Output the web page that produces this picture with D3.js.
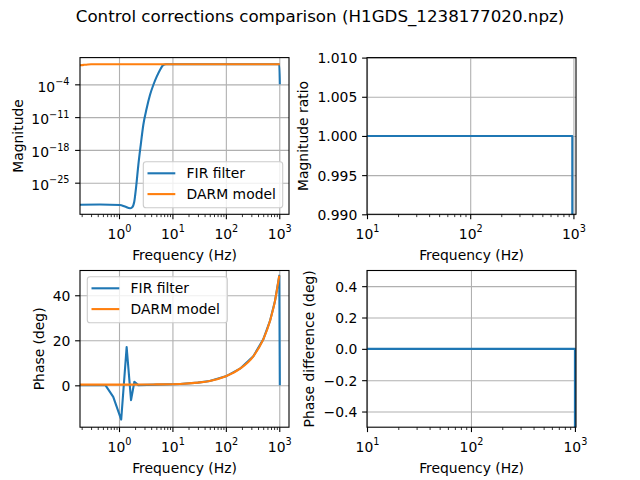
<!DOCTYPE html>
<html lang="en">
<head>
<meta charset="UTF-8">
<title>Control corrections comparison</title>
<script src="https://cdn.jsdelivr.net/npm/d3@7"></script>
<style>
  body { margin: 0; background: #fff; }
  svg { display: block; font-family: 'DejaVu Sans', sans-serif; }
  .grid line { stroke: #b0b0b0; stroke-width: 1.1px; }
  .ticks line { stroke: #000; stroke-width: 1.1px; }
  .minor line { stroke: #000; stroke-width: 0.8px; }
</style>
</head>
<body>
<script>
// values
const titleText = "Control corrections comparison (H1GDS_1238177020.npz)";
const seriesNames = ["FIR filter", "DARM model"];

// top left: magnitude
const firMagFreq = [0.186, 0.44, 1.04, 1.29, 1.61, 1.75, 1.93, 2.08, 2.30, 2.55, 2.85, 3.30, 3.80, 4.39, 5.08, 5.85, 6.75, 7.58, 10, 100, 1000, 1024];
const firMag = [2.0e-30, 2.2e-30, 1.7e-30, 7.9e-31, 3.4e-31, 5.0e-31, 8.7e-30, 7.2e-27, 5.9e-22, 1.1e-17, 2.1e-13, 7.6e-10, 5.2e-7, 7.2e-5, 4.3e-3, 0.115, 1.35, 1.9, 1.9, 1.9, 1.9, 1e-4];
const darmMagFreq = [0.186, 0.22, 0.26, 0.30, 1, 10, 100, 1000, 1024];
const darmMag = [1.15, 1.45, 1.75, 1.9, 1.9, 1.9, 1.9, 1.9, 1.9];

// bottom left: phase (deg)
const firPhaseFreq = [0.186, 0.56, 0.78, 1.10, 1.39, 1.68, 1.94, 2.30, 5, 13.9, 30, 50, 100, 184, 327, 502, 670, 832, 1000, 1024];
const firPhase = [0, 0, -5.1, -15.2, 17.0, -6.6, 1.6, 0.1, 0.3, 0.6, 1.2, 1.9, 4.0, 7.4, 12.9, 20.4, 28.6, 37.5, 48.7, 0];
const darmPhaseFreq = [0.186, 1, 5, 13.9, 30, 50, 100, 184, 327, 502, 670, 832, 1000];
const darmPhase = [0.3, 0.3, 0.4, 0.6, 1.2, 1.9, 4.0, 7.4, 12.9, 20.4, 28.6, 37.5, 48.7];

// right column
const ratioFreq = [10, 100, 975, 1000];
const ratio = [1, 1, 1, 5e-5];
const diffFreq = [10, 100, 1000, 1024];
const diff = [0, 0, 0, -48.7];

const magTicks = [1e-25, 1e-18, 1e-11, 1e-4];
const ratioTicks = [0.99, 0.995, 1.0, 1.005, 1.01];
const phaseTicks = [0, 20, 40];
const diffTicks = [-0.4, -0.2, 0, 0.2, 0.4];

const blue = "#1f77b4", orange = "#ff7f0e";
const FS = 13.9;

const svg = d3.select("body").append("svg")
    .attr("width", 640).attr("height", 480);

svg.append("text")
    .attr("x", 320).attr("y", 22.3)
    .attr("text-anchor", "middle")
    .attr("font-size", 16.7)
    .text(titleText);

const colL = [80, 289], colR = [367, 576];
const rowT = [57.6, 214.3], rowB = [270.5, 427.2];

function logTicks(scale) {
    const [a, b] = scale.domain();
    const major = [], minor = [];
    for (let e = Math.floor(Math.log10(a)); e <= Math.ceil(Math.log10(b)); e++) {
        const p = Math.pow(10, e);
        if (p >= a * 0.999 && p <= b * 1.001) major.push(p);
        for (let k = 2; k < 10; k++) {
            const v = k * p;
            if (v >= a && v <= b) minor.push(v);
        }
    }
    return { major, minor };
}

function sup(sel, d) {
    const e = Math.round(Math.log10(d));
    sel.text("10");
    sel.append("tspan").attr("dy", -6.5).attr("font-size", 9.7)
        .text(String(e).replace("-", "\u2212"));
}

let clipId = 0;
function panel(cols, rows, x, y, opts) {
    const g = svg.append("g");
    const w = cols[1] - cols[0], h = rows[1] - rows[0];
    const { major, minor } = logTicks(x);

    // grid
    g.append("g").attr("class", "grid")
        .attr("transform", `translate(0,${rows[1]})`)
        .call(d3.axisBottom(x).tickValues(major).tickSize(-h).tickFormat(""))
        .call(s => s.select(".domain").remove());
    g.append("g").attr("class", "grid")
        .attr("transform", `translate(${cols[0]},0)`)
        .call(d3.axisLeft(y).tickValues(opts.yTicks).tickSize(-w).tickFormat(""))
        .call(s => s.select(".domain").remove());

    // lines
    const id = "clip" + (clipId++);
    g.append("clipPath").attr("id", id).append("rect")
        .attr("x", cols[0]).attr("y", rows[0]).attr("width", w).attr("height", h);
    opts.series.forEach(s => {
        const line = d3.line()
            .x((d, i) => x(s.f[i]))
            .y(d => y(d))
            .curve(s.sharp ? d3.curveLinear : d3.curveMonotoneX);
        g.append("path")
            .attr("clip-path", `url(#${id})`)
            .attr("d", line(s.v))
            .attr("fill", "none")
            .attr("stroke", s.color)
            .attr("stroke-width", 2.1)
            .attr("stroke-linejoin", "round");
    });

    // ticks
    g.append("g").attr("class", "minor")
        .attr("transform", `translate(0,${rows[1]})`)
        .call(d3.axisBottom(x).tickValues(minor).tickSize(2.8).tickFormat(""))
        .call(s => s.select(".domain").remove());
    const xa = g.append("g").attr("class", "ticks")
        .attr("transform", `translate(0,${rows[1]})`)
        .call(d3.axisBottom(x).tickValues(major).tickSize(4.9).tickFormat(""));
    xa.select(".domain").remove();
    xa.attr("font-family", null).attr("font-size", FS);
    xa.selectAll(".tick text")
        .attr("y", 24.4).attr("dy", null).attr("fill", "#000")
        .each(function(d) { sup(d3.select(this), d); });

    const ya = g.append("g").attr("class", "ticks")
        .attr("transform", `translate(${cols[0]},0)`)
        .call(d3.axisLeft(y).tickValues(opts.yTicks).tickSize(4.9).tickFormat(opts.yFormat || ""));
    ya.select(".domain").remove();
    ya.attr("font-family", null).attr("font-size", FS);
    if (opts.yLog) {
        ya.selectAll(".tick text")
            .attr("x", -10.5).attr("y", 6.7).attr("dy", null).attr("fill", "#000")
            .each(function(d) { sup(d3.select(this), d); });
    } else {
        ya.selectAll(".tick text")
            .attr("x", -9.7).attr("y", 5).attr("dy", null).attr("fill", "#000");
    }

    // frame
    g.append("rect")
        .attr("x", cols[0]).attr("y", rows[0]).attr("width", w).attr("height", h)
        .attr("fill", "none").attr("stroke", "#000").attr("stroke-width", 1.1);

    // labels
    g.append("text")
        .attr("x", (cols[0] + cols[1]) / 2).attr("y", rows[1] + 45.5)
        .attr("text-anchor", "middle").attr("font-size", FS)
        .text("Frequency (Hz)");
    g.append("text")
        .attr("transform", `translate(${opts.yLabelX},${(rows[0] + rows[1]) / 2}) rotate(-90)`)
        .attr("text-anchor", "middle").attr("font-size", FS)
        .text(opts.yLabel);

    if (opts.legend) {
        const L = opts.legend;
        const lg = g.append("g");
        lg.append("rect")
            .attr("x", L.x).attr("y", L.y).attr("width", L.w).attr("height", L.h)
            .attr("rx", 2.8)
            .attr("fill", "#fff").attr("fill-opacity", 0.8)
            .attr("stroke", "#cccccc").attr("stroke-width", 1.1);
        opts.series.forEach((s, i) => {
            const yy = L.y + 11.6 + i * 20.8;
            lg.append("line")
                .attr("x1", L.x + 4.2).attr("x2", L.x + 32)
                .attr("y1", yy).attr("y2", yy)
                .attr("stroke", s.color).attr("stroke-width", 2.1);
            lg.append("text")
                .attr("x", L.x + 43.3).attr("y", yy + 5)
                .attr("font-size", FS)
                .text(seriesNames[i]);
        });
    }
}

// top left
const xL = d3.scaleLog().domain([Math.pow(10, -0.730), Math.pow(10, 3.182)]).range(colL);
const yMag = d3.scaleLog().domain([Math.pow(10, -31.75), Math.pow(10, 1.708)]).range([rowT[1], rowT[0]]);
panel(colL, rowT, xL, yMag, {
    yTicks: magTicks, yLog: true, yLabel: "Magnitude", yLabelX: 22.5,
    series: [{ f: firMagFreq, v: firMag, color: blue }, { f: darmMagFreq, v: darmMag, color: orange }],
    legend: { x: 143.3, y: 161.7, w: 139.4, h: 46 }
});

// top right
const xTR = d3.scaleLog().domain([10, Math.pow(10, 3.025)]).range(colR);
const yRatio = d3.scaleLinear().domain([0.99, 1.01]).range([rowT[1], rowT[0]]);
panel(colR, rowT, xTR, yRatio, {
    yTicks: ratioTicks, yFormat: d3.format(".3f"), yLabel: "Magnitude ratio", yLabelX: 307.5,
    series: [{ f: ratioFreq, v: ratio, color: blue, sharp: true }]
});

// bottom left
const yPhase = d3.scaleLinear().domain([-18.6, 51.0]).range([rowB[1], rowB[0]]);
panel(colL, rowB, xL, yPhase, {
    yTicks: phaseTicks, yFormat: d3.format("d"), yLabel: "Phase (deg)", yLabelX: 43.5,
    series: [{ f: firPhaseFreq, v: firPhase, color: blue, sharp: true }, { f: darmPhaseFreq, v: darmPhase, color: orange }],
    legend: { x: 87.3, y: 276.7, w: 140, h: 46 }
});

// bottom right
const xBR = d3.scaleLog().domain([10, 1024]).range(colR);
const yDiff = d3.scaleLinear().domain([-0.5, 0.5]).range([rowB[1], rowB[0]]);
panel(colR, rowB, xBR, yDiff, {
    yTicks: diffTicks, yFormat: d3.format(".1f"), yLabel: "Phase difference (deg)", yLabelX: 313.5,
    series: [{ f: diffFreq, v: diff, color: blue, sharp: true }]
});
</script>
</body>
</html>
